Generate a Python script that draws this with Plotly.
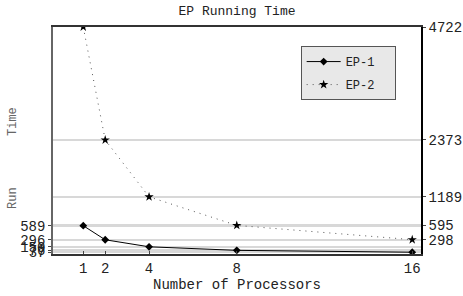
import plotly.graph_objects as go

processors = [1, 2, 4, 8, 16]
ep1 = [589, 296, 150, 76, 37]
ep2 = [4722, 2373, 1189, 595, 298]
x_ticks = [1, 2, 4, 8, 16]

FONT = "Liberation Mono, Courier New, monospace"

fig = go.Figure()
fig.add_trace(go.Scatter(
    x=processors, y=ep1, name="EP-1\u00a0\u00a0", mode="lines+markers",
    line=dict(color="black", width=1),
    marker=dict(symbol="diamond", size=6, color="black"),
    legendgroup="a", yaxis="y"))
fig.add_trace(go.Scatter(
    x=processors, y=ep2, name="EP-2\u00a0\u00a0", mode="lines+markers",
    line=dict(color="#555555", width=1, dash="1px,5px"),
    marker=dict(symbol="star", size=7, color="black"),
    legendgroup="b", yaxis="y2"))

yr = [0, 4722]
fig.update_layout(
    width=463, height=296,
    margin=dict(l=53, r=42, t=27, b=42, autoexpand=False),
    plot_bgcolor="white", paper_bgcolor="white",
    font=dict(family=FONT, color="#222222", size=13),
    title=dict(text="EP Running Time", x=0.5, xref="paper", y=0.965, yanchor="middle",
               font=dict(size=13, family=FONT)),
    showlegend=True,
    legend=dict(x=0.673, y=0.916, xanchor="left", yanchor="top",
                bgcolor="#e8e8e8", bordercolor="#555555", borderwidth=1,
                font=dict(size=12, family=FONT), tracegroupgap=4,
                traceorder="grouped", itemwidth=34),
    xaxis=dict(range=[-0.38, 16.4], tickvals=x_ticks, ticktext=[str(v) for v in x_ticks],
               showgrid=False, zeroline=False, showline=True, linecolor="#333333",
               linewidth=1.5, mirror=True, ticks="inside", ticklen=3,
               tickfont=dict(size=14), automargin=False,
               title=dict(text="Number of Processors", font=dict(size=14), standoff=2)),
    yaxis=dict(range=yr, tickvals=ep1, ticktext=[str(v) for v in ep1],
               showgrid=True, gridcolor="#d8d8d8", gridwidth=2, zeroline=False,
               showline=True, linecolor="#666666", linewidth=1.5, automargin=False,
               ticks="outside", ticklen=3, tickfont=dict(size=14)),
    yaxis2=dict(range=yr, tickvals=ep2, ticktext=[str(v) for v in ep2],
                overlaying="y", side="right", automargin=False,
                showgrid=True, gridcolor="#d8d8d8", gridwidth=2, zeroline=False,
                showline=True, linecolor="black", linewidth=1.5,
                ticks="outside", ticklen=3, tickfont=dict(size=14)),
)

fig.add_annotation(text="Time", xref="paper", yref="paper", x=(13 - 53) / 368,
                   xanchor="center", yanchor="middle",
                   y=(254 - 122) / 227, textangle=-90, showarrow=False,
                   font=dict(size=12, family=FONT, color="#666666"))
fig.add_annotation(text="Run", xref="paper", yref="paper", x=(13 - 53) / 368,
                   xanchor="center", yanchor="middle",
                   y=(254 - 198) / 227, textangle=-90, showarrow=False,
                   font=dict(size=12, family=FONT, color="#666666"))

fig.write_html("out.html", config={"displayModeBar": False},
               post_script="document.body.style.margin='0';")
